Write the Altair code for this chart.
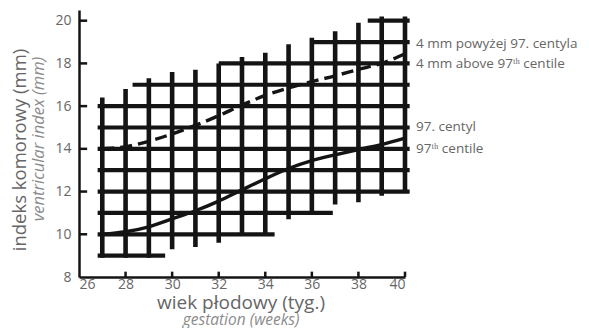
import altair as alt
import pandas as pd

# Grid segments (hand-drawn look)
h_val = [9, 10, 11, 12, 13, 14, 15, 16, 17, 18, 19, 20]
h_start = [26.8, 26.8, 26.8, 26.8, 26.8, 26.8, 26.8, 26.8, 28.3, 32.0, 36.0, 38.4]
h_end = [29.7, 34.4, 36.9, 40.2, 40.2, 40.2, 40.2, 40.2, 40.2, 40.2, 40.2, 40.2]

v_val = [27, 28, 29, 30, 31, 32, 33, 34, 35, 36, 37, 38, 39, 40]
v_bottom = [8.9, 8.9, 8.9, 9.3, 9.4, 9.6, 10.0, 10.0, 10.7, 10.9, 11.4, 11.5, 11.8, 12.0]
v_top = [16.4, 16.8, 17.3, 17.6, 17.7, 18.0, 18.3, 18.5, 18.9, 19.2, 19.5, 19.9, 20.2, 20.2]

# Curves
weeks = [27, 28, 29, 30, 31, 32, 33, 34, 35, 36, 37, 38, 39, 40]
centile97 = [10.0, 10.12, 10.35, 10.72, 11.1, 11.55, 12.08, 12.6, 13.08, 13.45, 13.72, 13.97, 14.2, 14.5]
above4 = [14.0, 14.1, 14.35, 14.7, 15.1, 15.55, 16.05, 16.5, 16.85, 17.15, 17.42, 17.72, 18.0, 18.45]

# Ticks
x_ticks = [26, 28, 30, 32, 34, 36, 38, 40]
y_ticks = [8, 10, 12, 14, 16, 18, 20]

# Right-hand labels
lab_text = ["4 mm powyżej 97. centyla", "4 mm above 97ᵗʰ centile", "97. centyl", "97ᵗʰ centile"]
lab_y = [18.9, 17.95, 15.0, 14.0]

# Axis titles
y_title = "indeks komorowy (mm)"
y_subtitle = "ventricular index (mm)"
x_title = "wiek płodowy (tyg.)"
x_subtitle = "gestation (weeks)"

INK = "#141414"
GREY = "#666666"
LGREY = "#8c8c8c"
FONT = "Open Sans"

xs = alt.Scale(domain=[26, 40], nice=False)
ys = alt.Scale(domain=[8, 20.5], nice=False)

hdf = pd.DataFrame({"y": h_val, "x1": h_start, "x2": h_end})
vdf = pd.DataFrame({"x": v_val, "y1": v_bottom, "y2": v_top})
cdf = pd.DataFrame({"w": weeks, "c": centile97, "a": above4})
xtdf = pd.DataFrame({"x": x_ticks[1:], "y0": [8] * (len(x_ticks) - 1), "y1": [8.25] * (len(x_ticks) - 1)})
ytdf = pd.DataFrame({"y": y_ticks[1:], "x0": [26] * (len(y_ticks) - 1), "x1": [26.35] * (len(y_ticks) - 1)})
ldf = pd.DataFrame({"t": lab_text, "y": lab_y, "x": [40] * len(lab_text)})

xaxis = alt.Axis(values=x_ticks, ticks=False, grid=False, domainColor=INK, domainWidth=2.5,
                 labelColor=GREY, labelFont=FONT, labelFontSize=14, labelPadding=0, title=None)
yaxis = alt.Axis(values=y_ticks, ticks=False, grid=False, domainColor=INK, domainWidth=2.5,
                 labelColor=GREY, labelFont=FONT, labelFontSize=14, labelPadding=8, title=None)

hlines = alt.Chart(hdf).mark_rule(color=INK, strokeWidth=4.2).encode(
    x=alt.X("x1:Q", scale=xs, axis=xaxis), x2="x2:Q",
    y=alt.Y("y:Q", scale=ys, axis=yaxis))
vlines = alt.Chart(vdf).mark_rule(color=INK, strokeWidth=4.6).encode(
    x=alt.X("x:Q", scale=xs), y=alt.Y("y1:Q", scale=ys), y2="y2:Q")
solid = alt.Chart(cdf).mark_line(color=INK, strokeWidth=3.4, interpolate="monotone").encode(
    x=alt.X("w:Q", scale=xs), y=alt.Y("c:Q", scale=ys))
dashed = alt.Chart(cdf).mark_line(color=INK, strokeWidth=3.4, strokeDash=[12, 6], interpolate="monotone").encode(
    x=alt.X("w:Q", scale=xs), y=alt.Y("a:Q", scale=ys))
xt = alt.Chart(xtdf).mark_rule(color=INK, strokeWidth=2.5).encode(
    x=alt.X("x:Q", scale=xs), y=alt.Y("y0:Q", scale=ys), y2="y1:Q")
yt = alt.Chart(ytdf).mark_rule(color=INK, strokeWidth=2.5).encode(
    x=alt.X("x0:Q", scale=xs), x2="x1:Q", y=alt.Y("y:Q", scale=ys))
labels = alt.Chart(ldf).mark_text(align="left", baseline="middle", dx=11, font=FONT, fontSize=13.5, color=GREY).encode(
    x=alt.X("x:Q", scale=xs), y=alt.Y("y:Q", scale=ys), text="t:N")

def ttl(text, x, y, size, color, italic=False, angle=0):
    kw = dict(align="center", baseline="middle", font=FONT, fontSize=size, color=color)
    if italic:
        kw["fontStyle"] = "italic"
    if angle:
        kw["angle"] = angle
    return alt.Chart(pd.DataFrame({"t": [text]})).mark_text(**kw).encode(
        text="t:N", x=alt.value(x), y=alt.value(y))

t1 = ttl(y_title, -59, 140, 18.5, GREY, angle=270)
t2 = ttl(y_subtitle, -40, 129, 16.5, LGREY, italic=True, angle=270)
t3 = ttl(x_title, 162, 293, 19, GREY)
t4 = ttl(x_subtitle, 162, 310, 15.5, LGREY, italic=True)

chart = alt.layer(hlines, vlines, solid, dashed, xt, yt, labels, t1, t2, t3, t4).properties(
    width=326, height=267,
    autosize=alt.AutoSizeParams(type="none"),
    padding={"left": 71, "top": 2, "right": 176, "bottom": 51},
).configure_view(stroke=None)

chart.save("out.html", embed_options={"renderer": "svg", "actions": False})
